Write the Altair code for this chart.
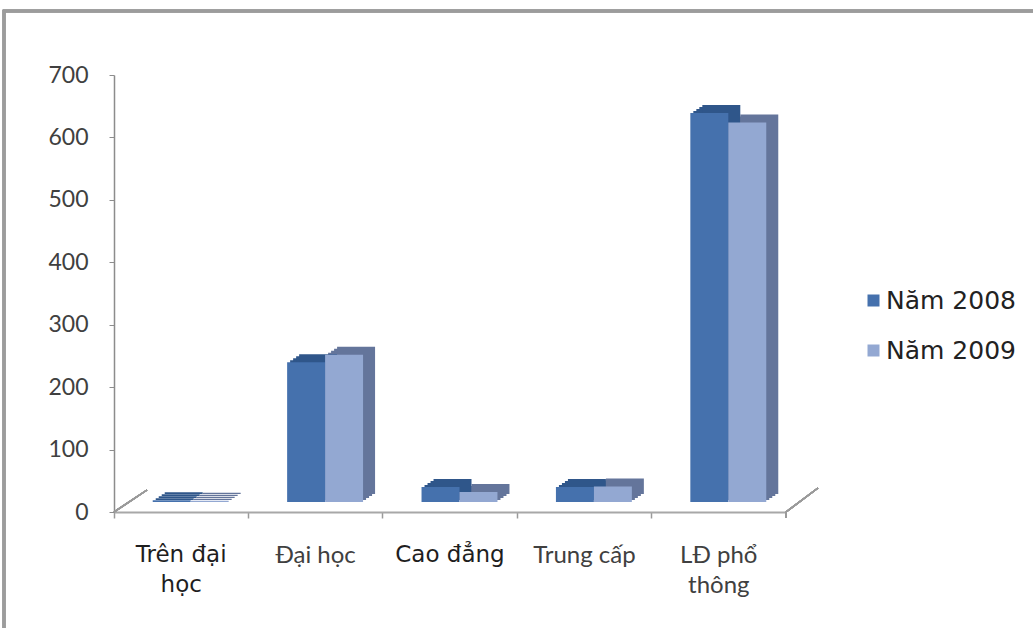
import altair as alt
import pandas as pd

# Categories (education level) and the two yearly series
categories = ["Trên đại học", "Đại học", "Cao đẳng", "Trung cấp", "LĐ phổ thông"]
label_text = ["Trên đại\nhọc", "Đại học", "Cao đẳng", "Trung cấp", "LĐ phổ\nthông"]
label_style = ["strong", "light", "strong", "light", "light"]
series_names = ["Năm 2008", "Năm 2009"]
values_2008 = [3, 224, 24, 24, 623]
values_2009 = [2, 236, 16, 25, 608]
y_ticks = [0, 100, 200, 300, 400, 500, 600, 700]

front_colors = ["#4571AD", "#93A8D2"]
depth_colors = ["#2F568A", "#64759B"]

rows = []
for i, cat in enumerate(categories):
    for s, vals in enumerate([values_2008, values_2009]):
        rows.append({"cat": cat, "series": series_names[s], "value": vals[i],
                     "depth": depth_colors[s]})
bars = pd.DataFrame(rows)
labels = pd.DataFrame({"cat": categories, "text": label_text, "style": label_style})

W, H = 672, 437
LEFT, TOP = 114, 75
STEP = W / len(categories)

x_enc = alt.X("cat:N", sort=categories,
              scale=alt.Scale(paddingInner=0, paddingOuter=0),
              axis=alt.Axis(title=None, labels=False, bandPosition=0, tickSize=6,
                            tickColor="#9a9a9a", domainColor="#a8a8a8",
                            domainWidth=2, tickWidth=1.5))
y_enc = alt.Y("value:Q", scale=alt.Scale(domain=[0, 700], nice=False),
              axis=alt.Axis(title=None, values=y_ticks, grid=False, tickSize=5,
                            tickColor="#8c8c8c", domainColor="#8c8c8c",
                            domainWidth=1.5, labelFont="Lato", labelFontSize=23,
                            labelColor="#404040", labelPadding=21))


def offset_enc(shift):
    # series position inside a category, moved right by `shift` pixels
    return alt.XOffset("series:N", sort=series_names,
                       scale=alt.Scale(range=[shift, STEP + shift],
                                       paddingInner=0, paddingOuter=0.77))


base = alt.Chart(bars)

# Depth faces: the same columns pushed back up and to the right in small steps
depth_layers = []
for k in range(1, 5):
    dy = -2 * k
    depth_layers.append(
        base.mark_bar(yOffset=-10 + dy, y2Offset=-10 + dy)
        .encode(x=x_enc, xOffset=offset_enc(9.5 + 3 * k), y=y_enc,
                fill=alt.Fill("depth:N", scale=None))
    )

front = base.mark_bar(yOffset=-10, y2Offset=-10).encode(
    x=x_enc, xOffset=offset_enc(9.5), y=y_enc,
    color=alt.Color("series:N", sort=series_names,
                    scale=alt.Scale(domain=series_names, range=front_colors),
                    legend=alt.Legend(title=None, orient="none", legendX=747,
                                      legendY=213, symbolType="square",
                                      symbolSize=144, symbolStrokeWidth=0,
                                      labelFont="DejaVu Sans", labelFontSize=25,
                                      labelColor="#222222", labelOffset=0,
                                      rowPadding=24)),
)

# Floor outline: side edges running back from the ends of the category axis
floor_left = alt.Chart(bars).mark_rule(color="#9a9a9a", strokeWidth=1.5).encode(
    x=alt.value(0), x2=alt.value(33), y=alt.value(H), y2=alt.value(H - 22))
floor_right = alt.Chart(bars).mark_rule(color="#9a9a9a", strokeWidth=1.5).encode(
    x=alt.value(W), x2=alt.value(W + 32), y=alt.value(H), y2=alt.value(H - 24))
end_tick = alt.Chart(bars).mark_rule(color="#9a9a9a", strokeWidth=1.5).encode(
    x=alt.value(W), y=alt.value(H), y2=alt.value(H + 6))

# Outer frame of the chart
frame = alt.Chart(bars).mark_rect(filled=False, stroke="#9c9c9c", strokeWidth=2.5).encode(
    x=alt.value(4 - LEFT), y=alt.value(11 - TOP),
    x2=alt.value(1033 - LEFT + 30), y2=alt.value(628 - TOP + 30))

strong_labels = alt.Chart(labels).transform_filter(alt.datum.style == "strong").mark_text(
    font="DejaVu Sans", fontSize=23, color="#1e1e1e", baseline="alphabetic",
    align="center", lineBreak="\n", lineHeight=30,
).encode(x=alt.X("cat:N", sort=categories), y=alt.value(H + 50), text="text:N")

light_labels = alt.Chart(labels).transform_filter(alt.datum.style == "light").mark_text(
    font="Lato", fontSize=24, color="#404040", baseline="alphabetic",
    align="center", lineBreak="\n", lineHeight=30,
).encode(x=alt.X("cat:N", sort=categories), y=alt.value(H + 51), text="text:N")

chart = alt.layer(
    frame, floor_left, floor_right, end_tick, *depth_layers, front,
    strong_labels, light_labels,
).resolve_scale(xOffset="independent").properties(
    width=W, height=H,
    padding={"left": LEFT, "top": TOP, "right": 1033 - LEFT - W, "bottom": 628 - TOP - H},
    autosize=alt.AutoSizeParams(type="none"),
    background="white",
).configure_view(strokeWidth=0)

chart.save("out.html", embed_options={"renderer": "svg", "actions": False})
